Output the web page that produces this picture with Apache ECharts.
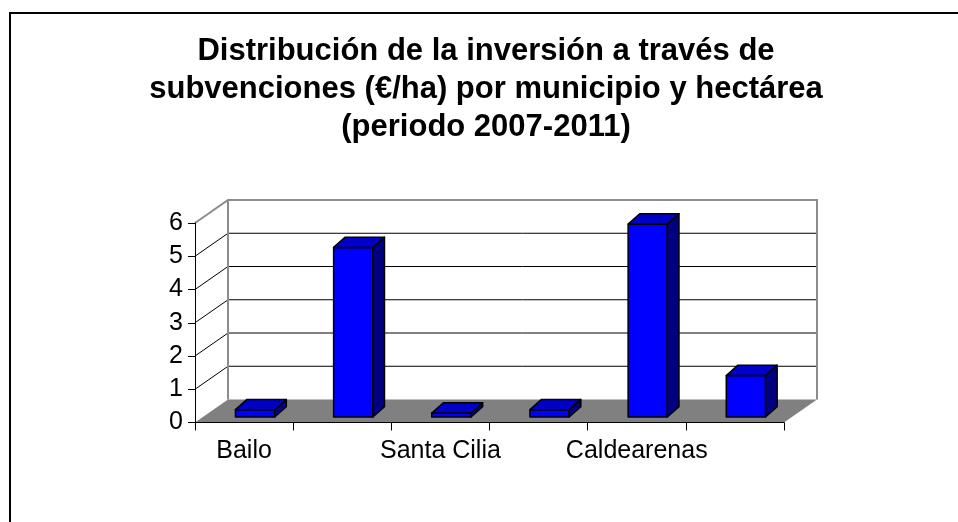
<!DOCTYPE html>
<html>
<head>
<meta charset="utf-8">
<script src="https://cdn.jsdelivr.net/npm/echarts@6/dist/echarts.min.js"></script>
<style>
html, body { margin: 0; padding: 0; background: #fff; }
#chart { width: 958px; height: 522px; }
</style>
</head>
<body>
<div id="chart"></div>
<script>
var municipios = ['Bailo', 'Jaca', 'Santa Cilia', 'Puente la Reina de Jaca', 'Caldearenas', 'Sabiñánigo'];
var inversion = [0.22, 5.1, 0.12, 0.22, 5.8, 1.25];
var yTicks = [0, 1, 2, 3, 4, 5, 6];
var titulo = ['Distribución de la inversión a través de', 'subvenciones (€/ha) por municipio y hectárea', '(periodo 2007-2011)'];

var fuente = '"Liberation Sans", Arial, sans-serif';
// profundidad de la "caja" 3D
var DX = 33, DY = -23;

function drawRoom(params, api) {
    var cs = params.coordSys;
    var x0 = cs.x, x1 = cs.x + cs.width;
    var yb = api.coord([0, yTicks[0]])[1];
    var yt = api.coord([0, yTicks[yTicks.length - 1]])[1];
    var kids = [];
    // pared lateral y fondo
    kids.push({type: 'polygon', shape: {points: [[x0, yb], [x0, yt], [x0 + DX, yt + DY], [x0 + DX, yb + DY]]}, style: {fill: '#fff'}});
    kids.push({type: 'rect', shape: {x: x0 + DX, y: yt + DY, width: x1 - x0, height: yb - yt}, style: {fill: '#fff'}});
    for (var k = 1; k < yTicks.length - 1; k++) {
        var y = api.coord([0, yTicks[k]])[1];
        kids.push({type: 'line', shape: {x1: x0, y1: y, x2: x0 + DX, y2: y + DY}, style: {stroke: '#000', lineWidth: 1}});
        kids.push({type: 'line', shape: {x1: x0 + DX, y1: y + DY, x2: x1 + DX, y2: y + DY}, style: {stroke: '#000', lineWidth: 1}});
    }
    // suelo
    kids.push({type: 'polygon', shape: {points: [[x0, yb], [x1, yb], [x1 + DX, yb + DY], [x0 + DX, yb + DY]]}, style: {fill: '#808080'}});
    // bordes grises
    kids.push({type: 'polyline', shape: {points: [[x0, yt], [x0 + DX, yt + DY], [x1 + DX, yt + DY], [x1 + DX, yb + DY]]}, style: {stroke: '#8c8c8c', lineWidth: 2, fill: null}});
    kids.push({type: 'line', shape: {x1: x0 + DX, y1: yt + DY, x2: x0 + DX, y2: yb + DY}, style: {stroke: '#8c8c8c', lineWidth: 2}});
    return {type: 'group', children: kids};
}

function drawBar(params, api) {
    var i = api.value(0), v = api.value(1);
    var base = api.coord([i, 0]);
    var top = api.coord([i, v]);
    var w = api.size([1, 0])[0] * 0.4;
    var l = base[0] - w / 2 + 11, r = l + w;
    var b = base[1] - 5.5, t = top[1] - 5.5;
    var bx = 11.6, by = -10.3;
    var borde = {stroke: '#000', lineWidth: 1.5, lineJoin: 'round'};
    return {
        type: 'group',
        children: [
            {type: 'polygon', shape: {points: [[l, b], [r, b], [r, t], [l, t]]}, style: Object.assign({fill: '#0000ff'}, borde)},
            {type: 'polygon', shape: {points: [[r, b], [r + bx, b + by], [r + bx, t + by], [r, t]]}, style: Object.assign({fill: '#000080'}, borde)},
            {type: 'polygon', shape: {points: [[l, t], [r, t], [r + bx, t + by], [l + bx, t + by]]}, style: Object.assign({fill: '#0000c8'}, borde)}
        ]
    };
}

var chart = echarts.init(document.getElementById('chart'));
chart.setOption({
    backgroundColor: '#fff',
    animation: false,
    title: {
        text: titulo.join('\n'),
        left: 481,
        top: 27,
        textAlign: 'center',
        textStyle: {fontFamily: fuente, fontWeight: 'bold', fontSize: 31, lineHeight: 38, color: '#000'}
    },
    graphic: [{
        type: 'rect',
        shape: {x: 10, y: 13, width: 1000, height: 600},
        style: {fill: null, stroke: '#000', lineWidth: 2}
    }],
    grid: {left: 195, top: 223, width: 589, height: 199.5},
    xAxis: {
        type: 'category',
        data: municipios,
        z: 10,
        axisLine: {lineStyle: {color: '#000', width: 1}},
        axisTick: {show: true, interval: 0, length: 8, lineStyle: {color: '#000'}},
        axisLabel: {interval: 1, color: '#000', fontFamily: fuente, fontSize: 25, margin: 16},
        splitLine: {show: false}
    },
    yAxis: {
        type: 'value',
        min: yTicks[0],
        max: yTicks[yTicks.length - 1],
        interval: 1,
        z: 10,
        axisLine: {show: true, lineStyle: {color: '#000', width: 1}},
        axisTick: {show: true, length: 7, lineStyle: {color: '#000'}},
        axisLabel: {color: '#000', fontFamily: fuente, fontSize: 25, margin: 12},
        splitLine: {show: false}
    },
    series: [
        {type: 'custom', data: [[0, 0]], renderItem: drawRoom, clip: false, silent: true, z: 1},
        {type: 'custom', data: inversion.map(function (v, i) { return [i, v]; }), renderItem: drawBar, clip: false, z: 3}
    ]
});
</script>
</body>
</html>
